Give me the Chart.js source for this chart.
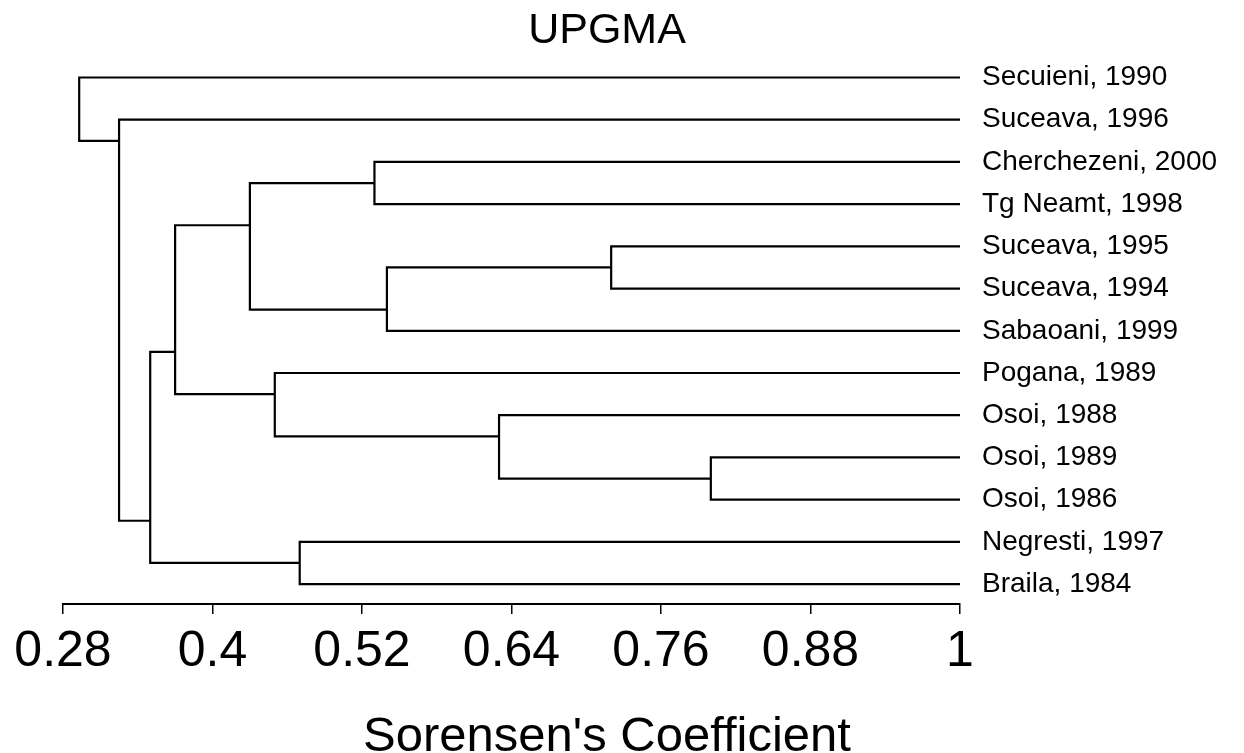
<!DOCTYPE html>
<html>
<head>
<meta charset="utf-8">
<title>UPGMA</title>
<script src="https://cdn.jsdelivr.net/npm/chart.js@4.4.0/dist/chart.umd.min.js"></script>
<style>
    html, body { margin: 0; padding: 0; background: #ffffff; }
    #contenedor { width: 1244px; height: 753px; }
</style>
</head>
<body>
<div id="contenedor"><canvas id="miGrafico"></canvas></div>
<script>
// Hojas del dendrograma, de arriba hacia abajo
const etiquetas = [
    "Secuieni, 1990",
    "Suceava, 1996",
    "Cherchezeni, 2000",
    "Tg Neamt, 1998",
    "Suceava, 1995",
    "Suceava, 1994",
    "Sabaoani, 1999",
    "Pogana, 1989",
    "Osoi, 1988",
    "Osoi, 1989",
    "Osoi, 1986",
    "Negresti, 1997",
    "Braila, 1984"
];

// Uniones UPGMA: hijo A, hijo B (indices de hoja o 13+ para nodos), coeficiente de Sorensen
const hijosA = [9, 4, 8, 6, 2, 11, 7, 16, 19, 18, 1, 0];
const hijosB = [10, 5, 13, 14, 3, 12, 15, 17, 20, 21, 22, 23];
const alturas = [0.80, 0.72, 0.63, 0.54, 0.53, 0.47, 0.45, 0.43, 0.37, 0.35, 0.325, 0.293];

// Marcas del eje x
const marcasX = [0.28, 0.4, 0.52, 0.64, 0.76, 0.88, 1];

// Calcular la posicion de cada nodo (x = coeficiente, y = frontera entre sus dos grupos)
function construirNodos() {
    const nodos = etiquetas.map((e, i) => ({ x: 1, y: i, min: i, max: i }));
    for (let k = 0; k < alturas.length; k++) {
        const a = nodos[hijosA[k]];
        const b = nodos[hijosB[k]];
        const arriba = a.min < b.min ? a : b;
        nodos.push({
            x: alturas[k],
            y: arriba.max + 0.5,
            min: Math.min(a.min, b.min),
            max: Math.max(a.max, b.max)
        });
    }
    return nodos;
}

// Cada union se dibuja como una "U" acostada
function crearDatasets() {
    const nodos = construirNodos();
    const datasets = [];
    for (let k = 0; k < alturas.length; k++) {
        const a = nodos[hijosA[k]];
        const b = nodos[hijosB[k]];
        datasets.push({
            data: [
                { x: a.x, y: a.y },
                { x: alturas[k], y: a.y },
                { x: alturas[k], y: b.y },
                { x: b.x, y: b.y }
            ],
            showLine: true,
            borderColor: '#000000',
            borderWidth: 2.2,
            pointRadius: 0,
            fill: false
        });
    }
    return datasets;
}

function crearGrafico() {
    const ctx = document.getElementById('miGrafico').getContext('2d');
    new Chart(ctx, {
        type: 'scatter',
        data: { datasets: crearDatasets() },
        options: {
            responsive: true,
            maintainAspectRatio: false,
            animation: false,
            // el relleno izquierdo negativo corre los titulos un poco a la izquierda
            layout: { padding: { left: -30, right: 0, top: 0, bottom: 0 } },
            plugins: {
                legend: { display: false },
                tooltip: { enabled: false },
                title: {
                    display: true,
                    text: 'UPGMA',
                    color: '#000000',
                    font: { family: 'Liberation Sans', size: 43, weight: 'normal', lineHeight: 1.2 },
                    padding: { top: 5, bottom: 0 }
                },
                subtitle: {
                    display: true,
                    position: 'bottom',
                    text: "Sorensen's Coefficient",
                    color: '#000000',
                    font: { family: 'Liberation Sans', size: 49, weight: 'normal', lineHeight: 1 },
                    padding: { top: 23, bottom: -9 }
                }
            },
            scales: {
                x: {
                    type: 'linear',
                    position: 'bottom',
                    min: 0.28,
                    max: 1,
                    afterBuildTicks: (scale) => {
                        scale.ticks = marcasX.map(v => ({ value: v }));
                    },
                    ticks: {
                        autoSkip: false,
                        maxRotation: 0,
                        padding: 8,
                        color: '#000000',
                        font: { family: 'Liberation Sans', size: 50 },
                        callback: (v) => String(Math.round(v * 100) / 100)
                    },
                    grid: {
                        display: true,
                        drawOnChartArea: false,
                        drawTicks: true,
                        tickLength: 10,
                        color: '#000000',
                        lineWidth: 1.5
                    },
                    border: { display: true, color: '#000000', width: 2 }
                },
                y: {
                    type: 'linear',
                    position: 'left',
                    reverse: true,
                    min: -0.495,
                    max: 12.472,
                    ticks: { display: false },
                    grid: { display: false },
                    border: { display: false },
                    afterFit: (scale) => { scale.width = 93; }
                },
                hojas: {
                    type: 'linear',
                    position: 'right',
                    reverse: true,
                    min: -0.495,
                    max: 12.472,
                    afterBuildTicks: (scale) => {
                        scale.ticks = etiquetas.map((e, i) => ({ value: i }));
                    },
                    ticks: {
                        autoSkip: false,
                        padding: 14,
                        color: '#000000',
                        font: { family: 'Liberation Sans', size: 28 },
                        callback: (v) => etiquetas[v]
                    },
                    grid: { display: false },
                    border: { display: false },
                    afterFit: (scale) => { scale.width = 284; }
                }
            }
        }
    });
}

document.addEventListener('DOMContentLoaded', () => {
    crearGrafico();
});
</script>
</body>
</html>
